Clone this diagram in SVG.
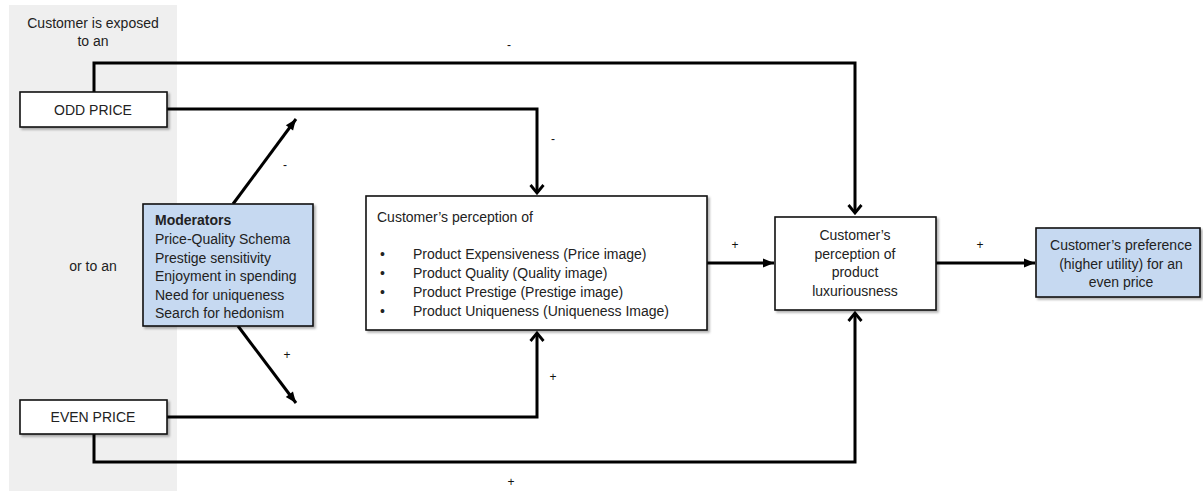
<svg xmlns="http://www.w3.org/2000/svg" width="1203" height="493" viewBox="0 0 1203 493">
<defs>
<style>
text{font-family:"Liberation Sans",Arial,sans-serif;font-size:14px;fill:#222}
.sm{font-size:12px;fill:#111}
.c{text-anchor:middle}
.box{fill:#fff;stroke:#111;stroke-width:1.6}
.blue{fill:#c6d9f1;stroke:#111;stroke-width:1.6}
.ln{fill:none;stroke:#000;stroke-width:3}
</style>
<filter id="sh" x="-10%" y="-10%" width="130%" height="130%">
<feDropShadow dx="2" dy="2" stdDeviation="1.2" flood-color="#000" flood-opacity="0.3"/>
</filter>
<marker id="chev" markerUnits="userSpaceOnUse" viewBox="-12 -9 14 18" refX="0" refY="0" markerWidth="14" markerHeight="18" orient="auto">
<path d="M-8,-6.5 L0,0 L-8,6.5" fill="none" stroke="#000" stroke-width="2.8" stroke-linejoin="miter"/>
</marker>
<marker id="tri" markerUnits="userSpaceOnUse" viewBox="-12 -6 13 12" refX="0" refY="0" markerWidth="13" markerHeight="12" orient="auto">
<path d="M-11,-4.5 L0,0 L-11,4.5 Z" fill="#000"/>
</marker>
</defs>
<rect x="9" y="5" width="168" height="486" fill="#efefef"/>
<text class="c" x="93" y="28">Customer is exposed</text>
<text class="c" x="93" y="46">to an</text>
<text class="c" x="93" y="271">or to an</text>
<g id="connectors">
<path class="ln" d="M94,92 V63 H855 V213" marker-end="url(#chev)"/>
<path class="ln" d="M167,109 H537 V193" marker-end="url(#chev)"/>
<path class="ln" d="M167,417 H537 V333" marker-end="url(#chev)"/>
<path class="ln" d="M94,434 V462 H855 V313" marker-end="url(#chev)"/>
<path class="ln" d="M233,204 L296,119" stroke-width="2.6" marker-end="url(#tri)"/>
<path class="ln" d="M238,326 L296,403" stroke-width="2.6" marker-end="url(#tri)"/>
<path class="ln" d="M707,263 H774" marker-end="url(#tri)"/>
<path class="ln" d="M936,263 H1035" marker-end="url(#tri)"/>
<text class="sm c" x="509" y="49">-</text>
<text class="sm c" x="553" y="143">-</text>
<text class="sm c" x="285" y="169">-</text>
<text class="sm c" x="287" y="359">+</text>
<text class="sm c" x="553" y="381">+</text>
<text class="sm c" x="511" y="486">+</text>
<text class="sm c" x="735" y="249">+</text>
<text class="sm c" x="980" y="249">+</text>
</g>
<g id="odd-price">
<rect class="box" x="20" y="92" width="147" height="35" filter="url(#sh)"/>
<text class="c" x="93" y="115">ODD PRICE</text>
</g>
<g id="even-price">
<rect class="box" x="20" y="400" width="147" height="34" filter="url(#sh)"/>
<text class="c" x="93" y="422">EVEN PRICE</text>
</g>
<g id="moderators">
<rect class="blue" x="143" y="204" width="170" height="122" filter="url(#sh)"/>
<text x="155" y="225" font-weight="bold">Moderators</text>
<text x="155" y="244">Price-Quality Schema</text>
<text x="155" y="263">Prestige sensitivity</text>
<text x="155" y="281">Enjoyment in spending</text>
<text x="155" y="300">Need for uniqueness</text>
<text x="155" y="318">Search for hedonism</text>
</g>
<g id="perception">
<rect class="box" x="366" y="196" width="341" height="134" filter="url(#sh)"/>
<text x="377" y="222">Customer’s perception of</text>
<text x="380" y="259">•</text>
<text x="413" y="259">Product Expensiveness (Price image)</text>
<text x="380" y="278">•</text>
<text x="413" y="278">Product Quality (Quality image)</text>
<text x="380" y="297">•</text>
<text x="413" y="297">Product Prestige (Prestige image)</text>
<text x="380" y="316">•</text>
<text x="413" y="316">Product Uniqueness (Uniqueness Image)</text>
</g>
<g id="luxuriousness">
<rect class="box" x="775" y="217" width="161" height="93" filter="url(#sh)"/>
<text class="c" x="855" y="240">Customer’s</text>
<text class="c" x="855" y="259">perception of</text>
<text class="c" x="855" y="277">product</text>
<text class="c" x="855" y="296">luxuriousness</text>
</g>
<g id="preference">
<rect class="blue" x="1036" y="228" width="164" height="69" filter="url(#sh)"/>
<text class="c" x="1121" y="250">Customer’s preference</text>
<text class="c" x="1121" y="269">(higher utility) for an</text>
<text class="c" x="1121" y="287">even price</text>
</g>
</svg>
